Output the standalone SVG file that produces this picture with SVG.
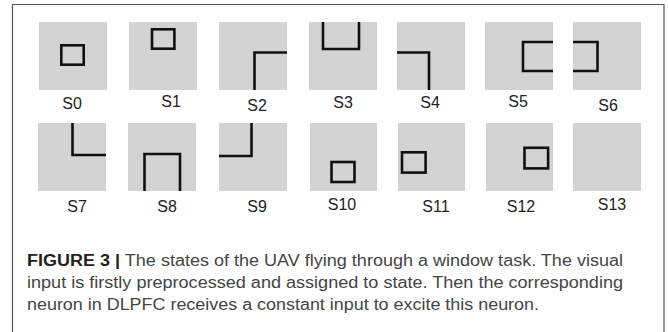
<svg xmlns="http://www.w3.org/2000/svg" width="668" height="332" viewBox="0 0 668 332">
<style>
.bg{fill:#fff}
.panel{fill:#d3d3d3}
.ln{fill:none;stroke:#111;stroke-width:2.6;stroke-linejoin:miter;stroke-linecap:butt}
.lbl{font-family:"Liberation Sans",Arial,sans-serif;font-size:16px;fill:#222;text-anchor:middle}
.cap{font-family:"Liberation Sans",Arial,sans-serif;font-size:16px;fill:#444}
.capb{font-weight:bold;fill:#222}
</style>
<rect class="bg" x="0" y="0" width="668" height="332"/>
<path d="M12.5 332 V4.5 H664 V332" fill="none" stroke="#555" stroke-width="1.2"/>
<g id="S0"><rect class="panel" x="39" y="22" width="68" height="68"/><rect class="ln" x="61.3" y="45.3" width="22.4" height="19.4"/><text class="lbl" x="72" y="109">S0</text></g>
<g id="S1"><rect class="panel" x="129" y="22" width="68" height="68"/><rect class="ln" x="152" y="29.3" width="22.4" height="19.4"/><text class="lbl" x="171" y="107">S1</text></g>
<g id="S2"><rect class="panel" x="219" y="22" width="68" height="68"/><path class="ln" d="M254.5 90 V52.5 H287"/><text class="lbl" x="257" y="111">S2</text></g>
<g id="S3"><rect class="panel" x="309" y="22" width="68" height="68"/><path class="ln" d="M323 22 V49 H359 V22"/><text class="lbl" x="343" y="108">S3</text></g>
<g id="S4"><rect class="panel" x="397" y="22" width="68" height="68"/><path class="ln" d="M397 52.5 H429 V90"/><text class="lbl" x="430" y="108">S4</text></g>
<g id="S5"><rect class="panel" x="485" y="22" width="68" height="68"/><path class="ln" d="M553 42 H523 V71 H553"/><text class="lbl" x="518" y="107">S5</text></g>
<g id="S6"><rect class="panel" x="573" y="22" width="68" height="68"/><path class="ln" d="M573 42 H597.5 V71 H573"/><text class="lbl" x="608" y="111">S6</text></g>
<g id="S7"><rect class="panel" x="38" y="123" width="68" height="68"/><path class="ln" d="M72.5 123 V155 H106"/><text class="lbl" x="77" y="212">S7</text></g>
<g id="S8"><rect class="panel" x="128" y="123" width="68" height="68"/><path class="ln" d="M144.5 191 V154 H180 V191"/><text class="lbl" x="167" y="212">S8</text></g>
<g id="S9"><rect class="panel" x="219" y="123" width="68" height="68"/><path class="ln" d="M251.5 123 V156 H219"/><text class="lbl" x="257" y="212">S9</text></g>
<g id="S10"><rect class="panel" x="310" y="123" width="67" height="68"/><rect class="ln" x="331.5" y="162" width="23" height="20"/><text class="lbl" x="342" y="210">S10</text></g>
<g id="S11"><rect class="panel" x="398" y="123" width="67" height="68"/><rect class="ln" x="402" y="152.3" width="23.6" height="20.3"/><text class="lbl" x="436" y="212">S11</text></g>
<g id="S12"><rect class="panel" x="486" y="123" width="67" height="68"/><rect class="ln" x="524.5" y="147.8" width="23.6" height="20.6"/><text class="lbl" x="521" y="212">S12</text></g>
<g id="S13"><rect class="panel" x="573" y="123" width="68" height="68"/><text class="lbl" x="612" y="210">S13</text></g>
<g id="caption">
<text class="cap" x="27" y="266" textLength="596" lengthAdjust="spacingAndGlyphs"><tspan class="capb">FIGURE 3 |</tspan> The states of the UAV flying through a window task. The visual</text>
<text class="cap" x="27" y="288" textLength="596" lengthAdjust="spacingAndGlyphs">input is firstly preprocessed and assigned to state. Then the corresponding</text>
<text class="cap" x="27" y="310" textLength="512" lengthAdjust="spacingAndGlyphs">neuron in DLPFC receives a constant input to excite this neuron.</text>
</g>
</svg>
